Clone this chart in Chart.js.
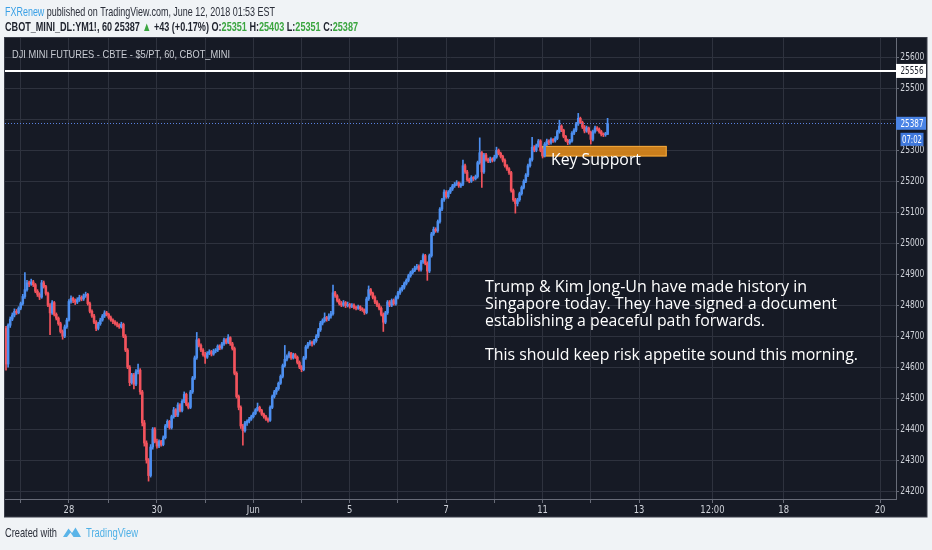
<!DOCTYPE html>
<html><head><meta charset="utf-8">
<script src="https://cdn.jsdelivr.net/npm/chart.js@4.4.1/dist/chart.umd.min.js"></script>
<style>html,body{margin:0;padding:0;background:#f0f3f6;overflow:hidden}canvas{display:block}</style>
</head><body>
<canvas id="c" width="932" height="550"></canvas>
<script>
// ---- DATA (hourly bars, index 0..287) ----
const opens = [
24725,24610,24735,24755,24768,24780,24775,24790,24805,24828,
24850,24872,24868,24875,24866,24845,24835,24826,24872,24860,
24838,24800,24775,24808,24770,24758,24740,24715,24700,24730,
24752,24812,24822,24815,24810,24818,24825,24820,24830,24835,
24805,24780,24765,24745,24725,24740,24752,24765,24775,24770,
24760,24752,24746,24740,24735,24730,24738,24700,24655,24600,
24550,24575,24545,24585,24590,24520,24420,24355,24300,24250,
24342,24400,24360,24345,24360,24350,24372,24410,24425,24405,
24440,24462,24445,24478,24460,24490,24512,24480,24470,24520,
24565,24630,24688,24670,24655,24640,24632,24645,24650,24642,
24652,24655,24668,24662,24675,24688,24680,24695,24675,24660,
24580,24505,24470,24410,24395,24420,24425,24432,24440,24450,
24462,24470,24460,24448,24440,24432,24428,24470,24505,24520,
24530,24548,24570,24605,24625,24635,24645,24630,24640,24632,
24615,24600,24592,24630,24665,24675,24680,24676,24685,24700,
24720,24742,24750,24760,24755,24765,24772,24840,24830,24815,
24805,24800,24808,24798,24802,24796,24800,24793,24790,24795,
24788,24785,24776,24820,24850,24838,24825,24810,24800,24790,
24770,24745,24775,24810,24800,24815,24805,24825,24840,24850,
24858,24870,24880,24895,24905,24912,24920,24925,24915,24940,
24960,24935,24910,24960,25030,25045,25040,25070,25110,25140,
25165,25150,25165,25175,25185,25190,25195,25185,25190,25250,
25230,25205,25200,25212,25208,25215,25260,25292,25230,25285,
25270,25265,25272,25268,25278,25300,25290,25280,25268,25250,
25240,25228,25170,25140,25128,25140,25160,25180,25200,25220,
25250,25270,25310,25300,25315,25330,25300,25282,25320,25330,
25325,25335,25330,25338,25360,25378,25365,25345,25332,25325,
25330,25355,25365,25385,25403,25390,25375,25362,25372,25358,
25335,25360,25372,25368,25360,25352,25350,25351];
const highs = [
24732,24740,24762,24775,24788,24786,24795,24810,24835,24905,
24880,24878,24884,24880,24870,24850,24840,24880,24878,24864,
24842,24805,24815,24812,24775,24762,24745,24720,24736,24758,
24818,24830,24826,24820,24824,24832,24830,24836,24842,24838,
24810,24785,24770,24750,24745,24758,24770,24782,24780,24774,
24765,24756,24750,24745,24740,24745,24742,24705,24660,24605,
24580,24580,24592,24610,24595,24525,24428,24362,24305,24350,
24405,24405,24368,24365,24364,24378,24415,24430,24428,24445,
24470,24466,24485,24482,24495,24520,24516,24485,24525,24570,
24636,24712,24692,24675,24660,24648,24650,24656,24654,24658,
24660,24672,24672,24680,24694,24692,24705,24698,24680,24665,
24585,24510,24475,24415,24425,24430,24438,24445,24455,24466,
24484,24474,24464,24452,24444,24436,24475,24510,24525,24535,
24552,24575,24610,24670,24640,24650,24648,24645,24644,24636,
24620,24605,24635,24670,24680,24686,24684,24690,24705,24725,
24748,24756,24775,24764,24772,24780,24865,24845,24834,24820,
24812,24815,24812,24810,24806,24805,24804,24797,24800,24798,
24792,24788,24826,24862,24854,24842,24830,24815,24805,24795,
24775,24780,24815,24815,24820,24820,24830,24845,24856,24864,
24875,24885,24900,24910,24918,24926,24932,24930,24945,24966,
24964,24940,24965,25035,25052,25050,25075,25115,25145,25172,
25170,25170,25180,25190,25196,25202,25198,25195,25268,25255,
25235,25210,25218,25215,25220,25265,25340,25296,25290,25290,
25275,25278,25276,25284,25310,25304,25294,25284,25272,25254,
25244,25232,25175,25145,25145,25165,25185,25205,25225,25255,
25275,25342,25315,25320,25335,25334,25305,25325,25336,25334,
25340,25338,25344,25365,25397,25382,25368,25348,25336,25335,
25360,25370,25390,25419,25407,25394,25380,25378,25375,25362,
25365,25378,25376,25372,25364,25356,25358,25403];
const lows = [
24590,24600,24728,24750,24762,24770,24772,24785,24800,24822,
24845,24860,24864,24860,24840,24828,24818,24822,24855,24832,
24795,24705,24770,24765,24752,24735,24710,24690,24695,24725,
24748,24806,24808,24802,24805,24812,24814,24815,24825,24800,
24775,24760,24740,24718,24720,24735,24748,24760,24765,24755,
24748,24740,24735,24730,24725,24726,24695,24650,24595,24540,
24545,24530,24540,24578,24512,24410,24345,24290,24232,24245,
24335,24355,24338,24340,24345,24346,24368,24405,24400,24400,
24435,24440,24440,24455,24455,24485,24475,24465,24466,24515,
24560,24625,24665,24650,24635,24612,24628,24640,24636,24638,
24646,24650,24656,24658,24670,24675,24676,24670,24655,24575,
24500,24462,24402,24348,24390,24412,24420,24428,24436,24446,
24458,24455,24444,24435,24428,24422,24425,24466,24500,24512,
24525,24544,24565,24600,24620,24630,24625,24626,24628,24610,
24595,24585,24588,24625,24660,24670,24668,24672,24680,24695,
24715,24736,24745,24748,24750,24758,24768,24825,24810,24800,
24795,24796,24792,24794,24790,24792,24788,24785,24786,24782,
24780,24770,24772,24815,24832,24820,24805,24795,24785,24765,
24715,24740,24770,24795,24795,24800,24800,24820,24835,24845,
24852,24865,24875,24890,24900,24908,24915,24910,24910,24935,
24930,24880,24905,24955,25025,25035,25035,25065,25105,25135,
25145,25145,25160,25170,25180,25186,25180,25180,25186,25225,
25200,25195,25196,25202,25204,25210,25255,25180,25225,25265,
25260,25260,25262,25264,25274,25285,25275,25262,25245,25235,
25222,25165,25135,25097,25120,25135,25155,25175,25195,25215,
25245,25265,25295,25295,25310,25295,25275,25278,25315,25318,
25320,25325,25326,25334,25355,25360,25340,25328,25318,25320,
25326,25350,25360,25380,25386,25370,25356,25358,25352,25320,
25330,25355,25362,25355,25346,25344,25345,25351];
const closes = [
24610,24735,24755,24768,24780,24775,24790,24805,24828,24850,
24872,24868,24875,24866,24845,24835,24826,24872,24860,24838,
24800,24775,24808,24770,24758,24740,24715,24700,24730,24752,
24812,24822,24815,24810,24818,24825,24820,24830,24835,24805,
24780,24765,24745,24725,24740,24752,24765,24775,24770,24760,
24752,24746,24740,24735,24730,24738,24700,24655,24600,24550,
24575,24545,24585,24590,24520,24420,24355,24300,24250,24342,
24400,24360,24345,24360,24350,24372,24410,24425,24405,24440,
24462,24445,24478,24460,24490,24512,24480,24470,24520,24565,
24630,24688,24670,24655,24640,24632,24645,24650,24642,24652,
24655,24668,24662,24675,24688,24680,24695,24675,24660,24580,
24505,24470,24410,24395,24420,24425,24432,24440,24450,24462,
24470,24460,24448,24440,24432,24428,24470,24505,24520,24530,
24548,24570,24605,24625,24635,24645,24630,24640,24632,24615,
24600,24592,24630,24665,24675,24680,24676,24685,24700,24720,
24742,24750,24760,24755,24765,24772,24840,24830,24815,24805,
24800,24808,24798,24802,24796,24800,24793,24790,24795,24788,
24785,24776,24820,24850,24838,24825,24810,24800,24790,24770,
24745,24775,24810,24800,24815,24805,24825,24840,24850,24858,
24870,24880,24895,24905,24912,24920,24925,24915,24940,24960,
24935,24910,24960,25030,25045,25040,25070,25110,25140,25165,
25150,25165,25175,25185,25190,25195,25185,25190,25250,25230,
25205,25200,25212,25208,25215,25260,25292,25230,25285,25270,
25265,25272,25268,25278,25300,25290,25280,25268,25250,25240,
25228,25170,25140,25128,25140,25160,25180,25200,25220,25250,
25270,25310,25300,25315,25330,25300,25282,25320,25330,25325,
25335,25330,25338,25360,25378,25365,25345,25332,25325,25330,
25355,25365,25385,25403,25390,25375,25362,25372,25358,25335,
25360,25372,25368,25360,25352,25350,25351,25387];

// time-axis grid (bar index) and labels
const gridIdx = [7,30,49,72,95,118,141,164,187,210,233,256,279,302,337,371,417];
const timeLabels = {30:'28',72:'30',118:'Jun',164:'5',210:'7',256:'11',302:'13',337:'12:00',371:'18',417:'20'};
const priceTicks = [24200,24300,24400,24500,24600,24700,24800,24900,25000,25100,25200,25300,25400,25500,25600];
const whiteLevel = 25556;
const lastPrice = 25387;
const supportZone = {from:255.6, to:315.2, top:25314, bottom:25280};
const noteLines = ['Trump & Kim Jong-Un have made history in','Singapore today. They have signed a document','establishing a peaceful path forwards.','','This should keep risk appetite sound this morning.'];

// ---- RENDER ----
const UP='#4d8ff0', DOWN='#f2535d', GRID='#2e323e', AXIS='#686c78', TXT='#d0d3da';
const AXF="'DejaVu Sans',sans-serif";
const bodies = closes.map((c,i)=>({x:i, y:[opens[i], c]}));
const wicks = closes.map((c,i)=>({x:i, y:[lows[i], highs[i]]}));
const col = ctx => closes[ctx.dataIndex] >= opens[ctx.dataIndex] ? UP : DOWN;

function fitText(ctx, segs, x, y, width, font, base){
  ctx.save(); ctx.font = font; ctx.textBaseline=base||'alphabetic'; ctx.textAlign='left';
  let total=0; segs.forEach(s=> total += ctx.measureText(s[0]).width);
  const sx = total>0 ? width/total : 1;
  ctx.translate(x,y); ctx.scale(sx,1);
  let cx=0; segs.forEach(s=>{ ctx.fillStyle=s[1]; ctx.fillText(s[0],cx,0); cx+=ctx.measureText(s[0]).width; });
  ctx.restore();
}
function squeeze(scale, sx){
  // draw the library's own tick labels horizontally condensed (narrow axis font)
  if (scale._sq) return; scale._sq = true;
  const orig = scale.drawLabels.bind(scale);
  scale._computeLabelArea = () => undefined;
  scale.drawLabels = function(area){
    const c = this.ctx; c.save();
    if (this.axis === 'y') { c.translate(this.left,0); c.scale(sx,1); c.translate(-this.left,0); orig(area); }
    else {
      const items = this.getLabelItems(area);
      items.forEach(it=>{
        const tx = it.options.translation[0], ty = it.options.translation[1];
        c.save(); c.translate(tx,0); c.scale(sx,1); c.translate(-tx,0);
        c.font = it.font.string; c.fillStyle = it.options.color; c.textAlign='center'; c.textBaseline = it.options.textBaseline;
        const lbl = Array.isArray(it.label) ? it.label[0] : it.label;
        c.fillText(lbl, tx, ty);
        c.restore();
      });
    }
    c.restore();
  };
}

const deco = {
  id:'deco',
  beforeDraw(chart){
    squeeze(chart.scales.y, 0.72);
    squeeze(chart.scales.x, 0.8);
    const c=chart.ctx; c.save();
    c.fillStyle='#f0f3f6'; c.fillRect(0,0,932,550);
    c.fillStyle='#161a25'; c.fillRect(4.5,37.5,922.5,479.5);
    c.strokeStyle='#3a3e4a'; c.lineWidth=1; c.strokeRect(4.5,37.5,922.5,479.5);
    c.restore();
  },
  beforeDatasetsDraw(chart){
    const c=chart.ctx, xs=chart.scales.x, ys=chart.scales.y;
    const x1=xs.getPixelForValue(supportZone.from), x2=xs.getPixelForValue(supportZone.to);
    const y1=ys.getPixelForValue(supportZone.top), y2=ys.getPixelForValue(supportZone.bottom);
    c.save(); c.fillStyle='rgba(222,138,28,0.9)'; c.fillRect(x1,y1,x2-x1,y2-y1);
    c.strokeStyle='#f2a83c'; c.lineWidth=1; c.strokeRect(x1+0.5,y1+0.5,x2-x1-1,y2-y1-1); c.restore();
  },
  afterDatasetsDraw(chart){
    const c=chart.ctx, a=chart.chartArea, ys=chart.scales.y;
    c.save();
    const yw=ys.getPixelForValue(whiteLevel);
    c.strokeStyle='#ffffff'; c.lineWidth=2; c.beginPath(); c.moveTo(a.left,yw); c.lineTo(a.right,yw); c.stroke();
    const yb=Math.round(ys.getPixelForValue(lastPrice))+0.5;
    c.strokeStyle='#5a82e0'; c.lineWidth=1; c.setLineDash([1,2]); c.beginPath(); c.moveTo(a.left,yb); c.lineTo(a.right,yb); c.stroke();
    c.restore();
  },
  afterDraw(chart){
    const c=chart.ctx, ys=chart.scales.y, a=chart.chartArea;
    c.save();
    const yw=ys.getPixelForValue(whiteLevel);
    c.fillStyle='#ffffff'; c.fillRect(a.right,yw-7,30,14);
    const yb=ys.getPixelForValue(lastPrice);
    c.fillStyle='#4a84e6'; c.fillRect(a.right,yb-6.5,30,13);
    c.fillStyle='#3f78dc'; c.fillRect(a.right+4.5,yb+9.5,23,13);
    c.restore();
    fitText(c, [[String(whiteLevel),'#1e222d']], a.right+4.5, yw+0.5, 23, '10.5px '+AXF, 'middle');
    fitText(c, [[String(lastPrice),'#ffffff']], a.right+4.5, yb+0.5, 23, '10.5px '+AXF, 'middle');
    fitText(c, [['07:02','#ffffff']], a.right+6, yb+16.5, 20, '10.5px '+AXF, 'middle');
    // header
    fitText(c, [['FXRenew','#3aa0e6'],[' published on TradingView.com, June 12, 2018 01:53 EST','#2a2e39']], 5, 16, 270, '13px "Liberation Sans",sans-serif');
    const G='#3aa53f', D='#1e222d';
    fitText(c, [['CBOT_MINI_DL:YM1!, 60 25387 ',D],['\u25B2',G],[' +43 (+0.17%) O:',D],['25351',G],[' H:',D],['25403',G],[' L:',D],['25351',G],[' C:',D],['25387',G]], 5, 31, 353, 'bold 13px "Liberation Sans",sans-serif');
    // chart title
    fitText(c, [['DJI MINI FUTURES - CBTE - $5/PT, 60, CBOT_MINI','#c9ccd3']], 12, 58, 218, '11.5px "Liberation Sans",sans-serif');
    // annotations
    const widths=[322,352,280,0,373];
    noteLines.forEach((t,i)=>{ if(t) fitText(c, [[t,'#ffffff']], 485, 292+17*i, widths[i], '500 17px "Open Sans",sans-serif'); });
    fitText(c, [['Key Support','#ffffff']], 551, 165, 90, '500 17px "Open Sans",sans-serif');
    // footer
    fitText(c, [['Created with','#2a2e39']], 5, 537, 52, '13px "Liberation Sans",sans-serif');
    c.save(); c.fillStyle='#5ab4e8';
    c.beginPath(); c.moveTo(63,537); c.lineTo(68.5,528.5); c.lineTo(72,533); c.lineTo(75.5,527.5); c.lineTo(81,537); c.closePath(); c.fill();
    c.fillStyle='#f0f3f6'; c.beginPath(); c.moveTo(67,537); c.lineTo(70.5,532.5); c.lineTo(73.5,537); c.closePath(); c.fill();
    c.restore();
    fitText(c, [['TradingView','#4fb0e6']], 86, 537, 52, '13px "Liberation Sans",sans-serif');
  }
};

new Chart(document.getElementById('c'), {
  type:'bar',
  data:{ datasets:[
    {label:'body', data:bodies, backgroundColor:col, barThickness:1.9, grouped:false, minBarLength:1, borderWidth:0},
    {label:'wick', data:wicks, backgroundColor:col, barThickness:1, grouped:false, borderWidth:0}
  ]},
  options:{
    responsive:false, animation:false, devicePixelRatio:1,
    layout:{padding:{left:5,top:38,right:5,bottom:33}},
    plugins:{legend:{display:false}, tooltip:{enabled:false}},
    scales:{
      x:{type:'linear', min:-0.49, max:424.6, offset:false,
         grid:{color:GRID, offset:false, tickLength:4, tickColor:AXIS, drawTicks:true},
         border:{color:AXIS},
         ticks:{color:TXT, font:{family:AXF, size:10.5}, padding:7, maxRotation:0, autoSkip:false,
                callback:(v)=> timeLabels[v] !== undefined ? timeLabels[v] : ''},
         afterBuildTicks:s=>{ s.ticks = gridIdx.map(v=>({value:v})); },
         afterFit:s=>{ s.height=18; }},
      y:{type:'linear', position:'right', min:24174.3, max:25662.3,
         grid:{color:GRID, tickLength:3, tickColor:AXIS},
         border:{color:AXIS},
         ticks:{color:TXT, font:{family:AXF, size:10.5}, padding:3,
                callback:(v)=> v===25400 ? '' : String(v)},
         afterBuildTicks:s=>{ s.ticks = priceTicks.map(v=>({value:v})); },
         afterFit:s=>{ s.width=31; }}
    }
  },
  plugins:[deco]
});
</script>
</body></html>
